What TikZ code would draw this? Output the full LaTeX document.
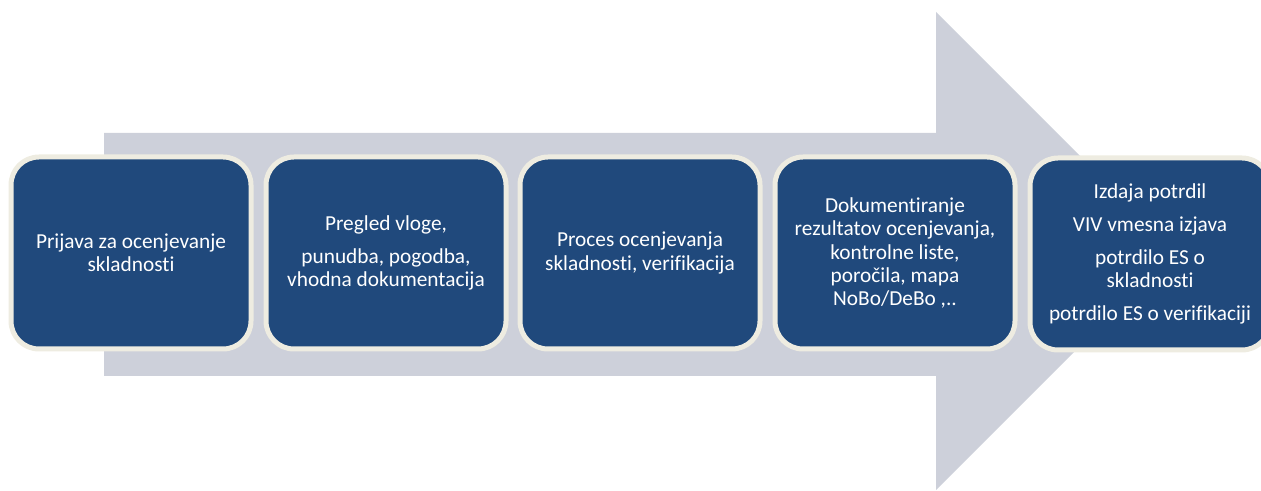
\documentclass[tikz,border=0pt]{standalone}
\usepackage{fontspec}
\setmainfont{Carlito}[Ligatures={NoCommon}]
\definecolor{arrowgrey}{RGB}{205,208,218}
\definecolor{boxblue}{RGB}{32,73,124}
\definecolor{boxcream}{RGB}{238,236,225}
\begin{document}
\begin{tikzpicture}[x=0.75pt,y=-0.75pt,
  stage/.style={draw=boxcream, line width=3.75pt, fill=boxblue, rounded corners=21pt,
    minimum width=180pt, minimum height=144pt, text=white, align=center,
    font=\fontsize{16}{17.5}\selectfont}]
% Frame
\path[use as bounding box, clip] (0,0) rectangle (1261,491);
% Big arrow behind the stages
\fill[arrowgrey] (104,133) -- (936,133) -- (936,12) -- (1175,251)
  -- (936,490) -- (936,376) -- (104,376) -- cycle;
% Stages
\node[stage] (prijava) at (131,253) {Prijava za ocenjevanje\\skladnosti};
\node[stage] (pregled) at (386,253) {Pregled vloge,\\[7pt]punudba, pogodba,\\vhodna dokumentacija};
\node[stage] (proces) at (640,253) {Proces ocenjevanja\\skladnosti, verifikacija};
\node[stage] (dokument) at (895,253) {Dokumentiranje\\rezultatov ocenjevanja,\\kontrolne liste,\\poročila, mapa\\NoBo/DeBo ,..};
\node[stage] (izdaja) at (1150,254) {Izdaja potrdil\\[7pt]VIV vmesna izjava\\[7pt]potrdilo ES o\\skladnosti\\[7pt]potrdilo ES o verifikaciji};
\end{tikzpicture}
\end{document}
